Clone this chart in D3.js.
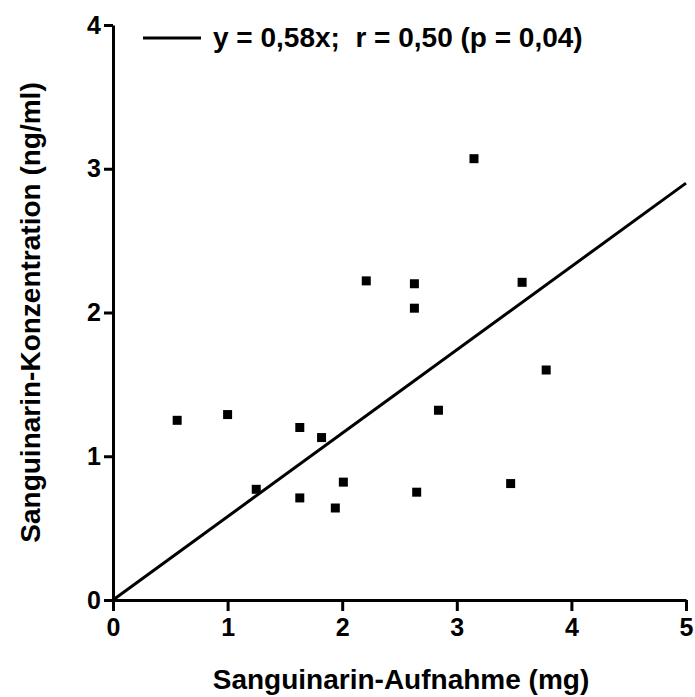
<!DOCTYPE html>
<html><head><meta charset="utf-8">
<script src="https://cdn.jsdelivr.net/npm/d3@7"></script>
<style>body{margin:0;background:#fff}svg{display:block}text{font-family:"Liberation Sans",Arial,sans-serif;font-weight:bold;fill:#000}</style>
</head><body>
<script>
const xValues = [0.56, 1.00, 1.25, 1.63, 1.63, 1.82, 1.94, 2.01, 2.21, 2.63, 2.63, 2.65, 2.84, 3.15, 3.47, 3.57, 3.78];
const yValues = [1.25, 1.29, 0.77, 1.20, 0.71, 1.13, 0.64, 0.82, 2.22, 2.20, 2.03, 0.75, 1.32, 3.07, 0.81, 2.21, 1.60];
const xTicks = [0, 1, 2, 3, 4, 5];
const yTicks = [0, 1, 2, 3, 4];
const slope = 0.58;
const legendText = "y = 0,58x;  r = 0,50 (p = 0,04)";
const xTitle = "Sanguinarin-Aufnahme (mg)";
const yTitle = "Sanguinarin-Konzentration (ng/ml)";

const W = 695, H = 697;
const m = {l:113, r:9, t:25, b:97};
const svg = d3.select("body").append("svg").attr("width", W).attr("height", H);
const x = d3.scaleLinear().domain([0,5]).range([m.l, W-m.r]);
const y = d3.scaleLinear().domain([0,4]).range([H-m.b, m.t]);

const xa = svg.append("g").attr("transform", `translate(0,${y(0)})`)
  .call(d3.axisBottom(x).tickValues(xTicks).tickFormat(d3.format("d")).tickSize(11).tickSizeOuter(0).tickPadding(7));
const ya = svg.append("g").attr("transform", `translate(${x(0)},0)`)
  .call(d3.axisLeft(y).tickValues(yTicks).tickFormat(d3.format("d")).tickSize(9).tickSizeOuter(0).tickPadding(3));
[xa, ya].forEach(a => {
  a.select(".domain").attr("stroke", "#000").attr("stroke-width", 3);
  a.selectAll(".tick line").attr("stroke", "#000").attr("stroke-width", 3);
  a.selectAll(".tick text").style("font-size", "25px").style("font-family", '"Liberation Sans",Arial,sans-serif').style("font-weight", "bold").attr("fill", "#000");
});

const data = xValues.map((v,i) => ({x:v, y:yValues[i]}));
svg.append("line").attr("x1", x(0)).attr("y1", y(0)).attr("x2", x(5)).attr("y2", y(slope*5))
  .attr("stroke", "#000").attr("stroke-width", 3);
const s = 9;
svg.selectAll("rect.pt").data(data).join("rect").attr("class","pt")
  .attr("x", d => x(d.x)-s/2).attr("y", d => y(d.y)-s/2).attr("width", s).attr("height", s).attr("fill", "#000");

// legend
svg.append("line").attr("x1", 143).attr("x2", 201).attr("y1", 38).attr("y2", 38).attr("stroke", "#000").attr("stroke-width", 3);
svg.append("text").attr("x", 213).attr("y", 47).style("font-size", "28px").style("white-space", "pre").text(legendText);

svg.append("text").attr("x", 401).attr("y", 689).attr("text-anchor", "middle").style("font-size", "28px").text(xTitle);
svg.append("text").attr("transform", `translate(40,${(y(0)+y(4))/2}) rotate(-90)`).attr("text-anchor", "middle").style("font-size", "28px").text(yTitle);
</script>
</body></html>
